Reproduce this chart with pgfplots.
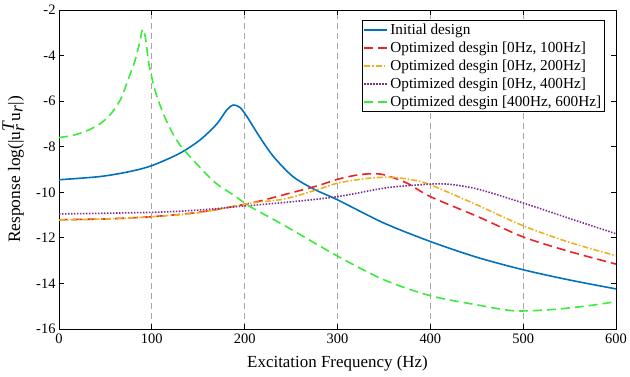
\documentclass[border=0pt]{standalone}
\usepackage{fontspec}
\setmainfont{Liberation Serif}
\usepackage{pgfplots}
\pgfplotsset{compat=1.18}
\definecolor{mblue}{HTML}{0072BD}
\definecolor{mred}{HTML}{EE2222}
\definecolor{morange}{HTML}{EDB120}
\definecolor{mpurple}{HTML}{7E2F8E}
\definecolor{mgreen}{HTML}{3CEA3C}
\begin{document}
\begin{tikzpicture}
\begin{axis}[
  scale only axis, width=557bp, height=319bp,
  xmin=0, xmax=600, ymin=-16, ymax=-2,
  xtick={0,100,...,600}, ytick={-16,-14,...,-2},
  tick align=inside, major tick length=5bp,
  tick style={black, line width=0.8pt},
  xmajorgrids, grid style={gray!70, dash pattern=on 6bp off 4bp, line width=0.9pt},
  axis line style={line width=0.9pt},
  ticklabel style={font=\fontsize{14.5}{17}\selectfont},
  xticklabel style={yshift=-1.5bp},
  /pgf/number format/assume math mode=true,
  xlabel={Excitation Frequency (Hz)},
  ylabel={Response log(|u$_{\textit{r}}^{\textit{T}}$u$_{\textit{r}}$|)},
  label style={font=\fontsize{17}{20}\selectfont},
  xlabel style={yshift=-5bp},
  ylabel style={yshift=5bp, font=\fontsize{17.5}{20}\selectfont},
  legend style={at={(axis description cs:0.9795,0.9687)}, anchor=north east,
    draw=black, line width=0.8pt, font=\fontsize{15.3}{18}\selectfont,
    inner xsep=1bp, inner ysep=1.2bp, row sep=2.0bp},
  legend cell align=left,
  legend image code/.code={\draw[#1, line width=2bp] (-1bp,0bp) -- (22bp,0bp);},
  every axis plot/.append style={line width=1.6pt},
]
\coordinate (o) at (rel axis cs:0,0);
\coordinate (t) at (rel axis cs:1,1);
\addplot[mblue, smooth] coordinates {
(0,-9.45) (44,-9.31) (75,-9.1) (100,-8.83) (130,-8.29) (152,-7.7) (170,-7.0) (180.6,-6.39) (187.5,-6.17) (194.7,-6.27) (202,-6.65) (216,-7.56) (231,-8.43) (252,-9.31) (275,-9.87) (300,-10.33) (350,-11.35) (400,-12.16) (450,-12.85) (500,-13.4) (550,-13.85) (600,-14.24)};
\addlegendentry{Initial design}
\addplot[mred, smooth, dash pattern=on 9bp off 5bp] coordinates {
(0,-11.2) (50,-11.17) (100,-11.07) (150,-10.88) (206,-10.48) (242,-10.11) (278,-9.72) (300,-9.43) (320,-9.25) (335,-9.19) (350,-9.23) (375,-9.6) (400,-10.19) (453,-11.1) (500,-11.96) (550,-12.6) (600,-13.15)};
\addlegendentry{Optimized desgin [0Hz, 100Hz]}
\addplot[morange, smooth, dash pattern=on 6bp off 2bp on 1.5bp off 2bp] coordinates {
(0,-11.22) (50,-11.17) (100,-11.07) (150,-10.9) (206,-10.48) (242,-10.3) (278,-9.89) (300,-9.6) (330,-9.4) (356,-9.34) (380,-9.45) (400,-9.67) (450,-10.55) (500,-11.47) (550,-12.2) (600,-12.78)};
\addlegendentry{Optimized desgin [0Hz, 200Hz]}
\addplot[mpurple, smooth, dash pattern=on 1.5bp off 1.5bp] coordinates {
(0,-10.95) (100,-10.88) (150,-10.78) (200,-10.6) (250,-10.42) (300,-10.19) (350,-9.82) (380,-9.7) (414,-9.63) (450,-9.85) (500,-10.47) (550,-11.15) (600,-11.82)};
\addlegendentry{Optimized desgin [0Hz, 400Hz]}
\addplot[mgreen, smooth, dash pattern=on 9bp off 5bp] coordinates {
(0,-7.6) (15,-7.5) (30,-7.3) (44,-7.0) (55,-6.6) (66,-5.95) (75,-5.0) (82,-4.2) (87,-3.4) (90,-2.85) (93,-3.2) (97,-4.4) (104,-5.6) (115,-6.8) (129,-7.85) (151,-8.87) (169,-9.6) (189,-10.15) (206,-10.63) (242,-11.44) (300,-12.8) (350,-13.84) (400,-14.54) (450,-14.94) (490,-15.2) (530,-15.15) (570,-14.98) (600,-14.8)};
\addlegendentry{Optimized desgin [400Hz, 600Hz]}
\end{axis}
\pgfresetboundingbox
\path[use as bounding box] ([shift={(-59bp,-48bp)}]o) rectangle ([shift={(14bp,10bp)}]t);
\end{tikzpicture}
\end{document}
